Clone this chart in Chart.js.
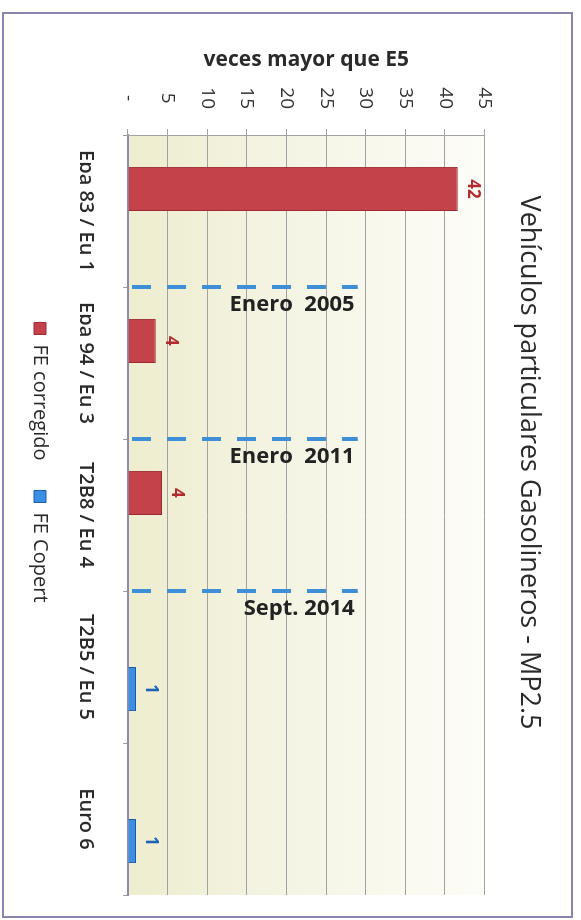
<!DOCTYPE html>
<html>
<head>
<meta charset="utf-8">
<title>Vehículos particulares Gasolineros - MP2.5</title>
<script src="https://cdn.jsdelivr.net/npm/chart.js@4.4.1/dist/chart.umd.min.js"></script>
<style>
  html, body { margin: 0; padding: 0; background: #fff; overflow: hidden; }
  /* la grafica original esta girada 90 grados */
  #contenedor { position: absolute; left: 0; top: 0; width: 920px; height: 581px;
    transform-origin: 0 0; transform: translate(581px, 0) rotate(90deg); }
</style>
</head>
<body>
<div id="contenedor"><canvas id="grafica" width="920" height="581"></canvas></div>
<script>
var categorias = ["Epa 83 / Eu 1", "Epa 94 / Eu 3", "T2B8 / Eu 4", "T2B5 / Eu 5", "Euro 6"];
var feCorregido = [41.6, 3.5, 4.3, null, null];
var feCopert = [null, null, null, 1.0, 1.0];
var ticksValor = [0, 5, 10, 15, 20, 25, 30, 35, 40, 45];
// texto que va despues de cada categoria (linea punteada)
var hitos = ["Enero  2005", "Enero  2011", "Sept. 2014"];

var fuente = '"Open Sans", "DejaVu Sans", sans-serif';

var fondo = {
  id: 'fondo',
  beforeDraw: function(chart) {
    var ctx = chart.ctx, a = chart.chartArea;
    ctx.save();
    ctx.fillStyle = '#ffffff';
    ctx.fillRect(0, 0, chart.width, chart.height);
    var g = ctx.createLinearGradient(0, a.bottom, 0, a.top);
    g.addColorStop(0, '#eeedcf');
    g.addColorStop(0.5, '#f5f5e6');
    g.addColorStop(1, '#fdfdf8');
    ctx.fillStyle = g;
    ctx.fillRect(a.left, a.top, a.right - a.left, a.bottom - a.top);
    ctx.strokeStyle = '#8686ae';
    ctx.lineWidth = 2;
    ctx.strokeRect(13, 9, 904, 569);
    ctx.restore();
  }
};

var lineasHitos = {
  id: 'lineasHitos',
  afterDatasetsDraw: function(chart) {
    var ctx = chart.ctx, x = chart.scales.x, y = chart.scales.y;
    ctx.save();
    hitos.forEach(function(texto, i) {
      var px = (x.getPixelForValue(i) + x.getPixelForValue(i + 1)) / 2;
      ctx.setLineDash([19, 16]);
      ctx.strokeStyle = '#3f8fd8';
      ctx.lineWidth = 4;
      ctx.beginPath();
      ctx.moveTo(px, y.getPixelForValue(0) - 4);
      ctx.lineTo(px, y.getPixelForValue(29));
      ctx.stroke();
      ctx.setLineDash([]);

      ctx.save();
      ctx.translate(px + 7, y.getPixelForValue(28.6));
      ctx.rotate(-Math.PI / 2);
      ctx.textAlign = 'right';
      ctx.textBaseline = 'top';
      ctx.font = 'bold 22px ' + fuente;
      ctx.fillStyle = '#222222';
      ctx.fillText(texto, 0, 0);
      ctx.restore();
    });
    ctx.restore();
  }
};

var etiquetas = {
  id: 'etiquetas',
  afterDatasetsDraw: function(chart) {
    var ctx = chart.ctx;
    var colores = ['#b52a2e', '#1f63b8'];
    chart.data.datasets.forEach(function(ds, di) {
      var meta = chart.getDatasetMeta(di);
      meta.data.forEach(function(bar, i) {
        var v = ds.data[i];
        if (v === null) return;
        ctx.save();
        ctx.font = 'bold 17px ' + fuente;
        ctx.fillStyle = colores[di];
        ctx.textAlign = 'center';
        ctx.textBaseline = 'alphabetic';
        ctx.fillText(Math.round(v), bar.x, bar.y - 10);
        ctx.restore();
      });
    });
  }
};

var barData = {
  labels: categorias,
  datasets: [
    {
      label: 'FE corregido',
      data: feCorregido,
      backgroundColor: '#c4424a',
      borderColor: '#9c2a30',
      borderWidth: 1
    },
    {
      label: 'FE Copert',
      data: feCopert,
      backgroundColor: '#3b8fe4',
      borderColor: '#1d5aa6',
      borderWidth: 1
    }
  ]
};

var barOptions = {
  responsive: false,
  animation: false,
  layout: { padding: { left: 30, right: 25, top: 8, bottom: 20 } },
  datasets: { bar: { categoryPercentage: 0.58, barPercentage: 1.0 } },
  plugins: {
    title: {
      display: true,
      text: 'Vehículos particulares Gasolineros - MP2.5',
      color: '#2a2a2a',
      font: { family: fuente, size: 27, weight: 'normal' },
      padding: { top: 28, bottom: 28 }
    },
    legend: {
      position: 'bottom',
      labels: {
        color: '#2a2a2a',
        font: { family: fuente, size: 20 },
        boxWidth: 12,
        boxHeight: 12,
        padding: 30
      }
    },
    tooltip: { enabled: false }
  },
  scales: {
    x: {
      grid: { drawOnChartArea: false, offset: true, tickLength: 5, color: '#9a9aaa' },
      border: { color: '#8c8cb2', width: 2 },
      ticks: { color: '#2a2a2a', font: { family: fuente, size: 20, weight: '600' }, padding: 25, maxRotation: 0 },
      afterFit: function(scale) { scale.height = 48; }
    },
    y: {
      min: 0,
      max: 45,
      afterBuildTicks: function(scale) {
        scale.ticks = ticksValor.map(function(v) { return { value: v }; });
      },
      grid: { color: '#a2a2a2', tickLength: 6 },
      border: { color: '#a2a2a2' },
      ticks: {
        color: '#333333',
        font: { family: fuente, size: 19 },
        padding: 20,
        crossAlign: 'center',
        callback: function(v) { return v === 0 ? '-' : v; }
      },
      title: {
        display: true,
        text: 'veces mayor que E5',
        color: '#2a2a2a',
        font: { family: fuente, size: 21, weight: 'bold' },
        padding: { top: 17, bottom: 0 }
      },
      afterFit: function(scale) { scale.width = 105; }
    }
  }
};

var ctx2 = document.getElementById('grafica').getContext('2d');
var myBarChart = new Chart(ctx2, {
  type: 'bar',
  data: barData,
  options: barOptions,
  plugins: [fondo, lineasHitos, etiquetas]
});
</script>
</body>
</html>
